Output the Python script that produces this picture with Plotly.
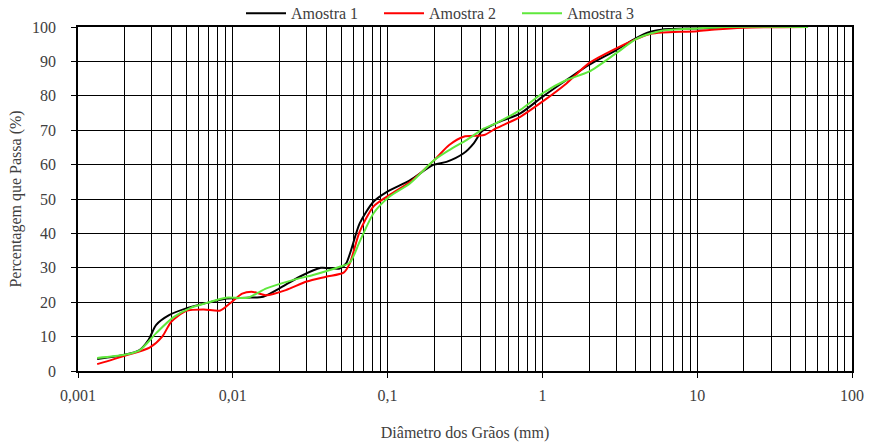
import plotly.graph_objects as go

# Amostra 1 (black)
d1 = [0.00133, 0.002, 0.0025, 0.00285, 0.0032, 0.0039, 0.005, 0.0068, 0.0091, 0.0123, 0.0157, 0.02, 0.027,
      0.037, 0.049, 0.054, 0.066, 0.081, 0.099, 0.14, 0.197, 0.24, 0.31, 0.36, 0.405, 0.5, 0.72,
      1.0, 1.43, 2.0, 3.0, 4.0, 5.0, 6.0, 10, 20, 52]
p1 = [3.5, 4.7, 6.1, 9.0, 13.4, 16.3, 18.2, 19.8, 21.1, 21.3, 21.6, 24.0, 27.4,
      30.0, 29.8, 31.3, 42.9, 49.2, 52.1, 55.5, 59.9, 60.8, 63.3, 66.2, 69.6, 72.0, 74.9,
      79.7, 84.6, 89.0, 93.3, 96.7, 98.6, 99.3, 99.6, 100, 100]

# Amostra 2 (red)
d2 = [0.00133, 0.002, 0.0029, 0.0035, 0.004, 0.005, 0.0065, 0.0083, 0.0096, 0.0115, 0.0135, 0.0165, 0.022,
      0.03, 0.04, 0.052, 0.057, 0.066, 0.081, 0.099, 0.14, 0.2, 0.25, 0.31, 0.42, 0.5, 0.72,
      1.0, 1.43, 2.0, 3.0, 4.0, 5.0, 6.0, 10, 13, 20, 52]
p2 = [2.0, 4.4, 6.8, 10.0, 14.3, 17.5, 17.9, 17.6, 19.7, 22.5, 23.0, 22.0, 23.5,
      26.0, 27.4, 28.6, 31.3, 40.5, 47.8, 50.7, 55.0, 61.3, 65.7, 68.1, 68.6, 70.5, 73.9,
      78.3, 83.6, 89.5, 93.8, 96.4, 98.0, 98.4, 98.8, 99.3, 99.8, 100]

# Amostra 3 (green)
d3 = [0.00133, 0.002, 0.0025, 0.0032, 0.0041, 0.0053, 0.0068, 0.009, 0.0125, 0.0165, 0.0247,
      0.033, 0.049, 0.057, 0.066, 0.081, 0.103, 0.14, 0.2, 0.25, 0.325, 0.42, 0.5, 0.72,
      1.0, 1.43, 2.0, 3.0, 4.0, 5.0, 6.0, 10, 15, 52]
p3 = [3.8, 4.7, 6.0, 11.0, 15.5, 18.3, 19.8, 21.3, 21.3, 24.0, 26.5,
      27.9, 30.3, 31.5, 37.6, 45.8, 50.7, 54.6, 61.3, 64.2, 67.2, 70.5, 72.0, 75.9,
      80.7, 84.6, 87.0, 92.4, 96.4, 98.1, 99.0, 99.6, 100, 100]

series_names = ["Amostra 1", "Amostra 2", "Amostra 3"]
series_colors = ["#000000", "#ff0000", "#5fe83c"]

x_tickvals = [0.001, 0.01, 0.1, 1, 10, 100]
x_ticktext = ["0,001", "0,01", "0,1", "1", "10", "100"]
y_tickvals = [0, 10, 20, 30, 40, 50, 60, 70, 80, 90, 100]

FONT = "Liberation Serif, Times New Roman, serif"
TXT = "#404040"

fig = go.Figure()
for d, p, n, c in zip([d1, d2, d3], [p1, p2, p3], series_names, series_colors):
    fig.add_trace(go.Scatter(x=d, y=p, mode="lines", name=n,
                             line=dict(color=c, width=2, shape="spline", smoothing=0.7)))

fig.update_layout(
    width=869, height=443,
    margin=dict(l=78, r=17, t=27, b=72, autoexpand=False),
    paper_bgcolor="white", plot_bgcolor="white",
    font=dict(family=FONT, size=16, color=TXT),
    showlegend=True,
    legend=dict(orientation="h", x=0.2106, xanchor="left", y=1.04, yanchor="middle",
                font=dict(family=FONT, size=16, color=TXT),
                entrywidth=83, entrywidthmode="pixels", itemwidth=40,
                bgcolor="rgba(0,0,0,0)", tracegroupgap=0),
)
fig.update_xaxes(
    type="log", range=[-3, 2],
    tickvals=x_tickvals, ticktext=x_ticktext,
    showgrid=True, gridcolor="#000000", gridwidth=1,
    minor=dict(dtick="D1", showgrid=True, gridcolor="#000000", gridwidth=1, ticks=""),
    showline=True, linecolor="#000000", linewidth=1.5, mirror=True,
    ticks="outside", ticklen=5, tickcolor="#000000",
    ticklabelstandoff=4,
    tickfont=dict(family=FONT, size=16, color=TXT),
    title=dict(text="Diâmetro dos Grãos (mm)", font=dict(family=FONT, size=16, color=TXT), standoff=24),
    zeroline=False,
)
fig.update_yaxes(
    range=[0, 100], tickvals=y_tickvals,
    showgrid=True, gridcolor="#000000", gridwidth=1,
    showline=True, linecolor="#000000", linewidth=1.5, mirror=True,
    ticks="outside", ticklen=5, tickcolor="#000000",
    ticklabelstandoff=12,
    tickfont=dict(family=FONT, size=16, color=TXT),
    title=dict(text="Percentagem que Passa (%)", font=dict(family=FONT, size=16, color=TXT), standoff=6),
    zeroline=False,
)

fig.write_html("out.html")
